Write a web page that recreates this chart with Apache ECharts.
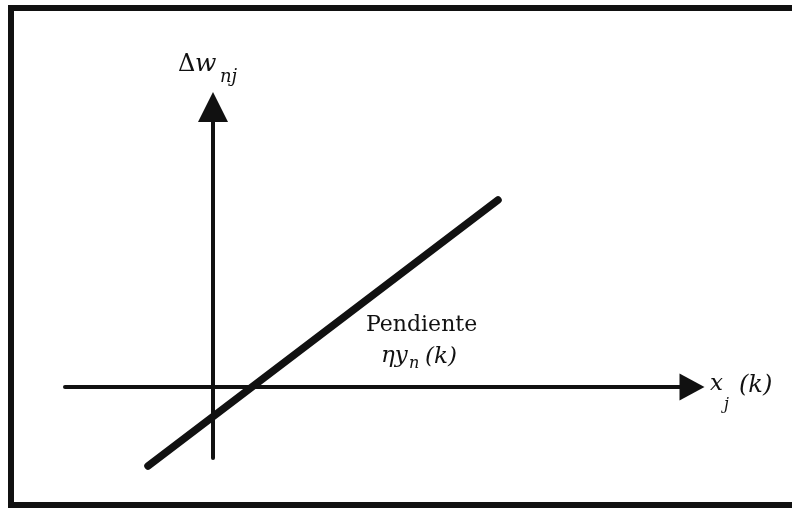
<!DOCTYPE html>
<html>
<head>
<meta charset="utf-8">
<script src="https://cdn.jsdelivr.net/npm/echarts@6/dist/echarts.min.js"></script>
<style>
  html, body { margin: 0; padding: 0; background: #fff; }
  #chart { width: 792px; height: 510px; }
</style>
</head>
<body>
<div id="chart"></div>
<script>
// data units: origin where the two axes cross
const xRange = [-1.48, 4.79];
const yRange = [-0.71, 2.80];
const lineX = [-0.65, 2.85];
const lineY = [-0.79, 1.87];

const ink = '#111';
const serif = '"DejaVu Serif", "Liberation Serif", serif';

const chart = echarts.init(document.getElementById('chart'));

const option = {
  backgroundColor: '#fff',
  animation: false,
  grid: { left: 65, right: 100, top: 107, bottom: 52 },
  xAxis: {
    type: 'value',
    min: xRange[0],
    max: xRange[1],
    axisLine: {
      onZero: true,
      symbol: ['none', 'triangle'],
      symbolSize: [27, 25],
      lineStyle: { color: ink, width: 4 }
    },
    axisTick: { show: false },
    axisLabel: { show: false },
    splitLine: { show: false }
  },
  yAxis: {
    type: 'value',
    min: yRange[0],
    max: yRange[1],
    axisLine: {
      show: true,
      onZero: true,
      symbol: ['none', 'triangle'],
      symbolSize: [30, 30],
      lineStyle: { color: ink, width: 4 }
    },
    axisTick: { show: false },
    axisLabel: { show: false },
    splitLine: { show: false }
  },
  series: [
    {
      type: 'line',
      clip: false,
      symbol: 'none',
      silent: true,
      lineStyle: { color: ink, width: 7.5, cap: 'round' },
      data: lineX.map((x, i) => [x, lineY[i]])
    }
  ],
  graphic: [
    // frame round the figure
    {
      type: 'rect',
      shape: { x: 11, y: 8, width: 800, height: 497 },
      style: { fill: 'none', stroke: ink, lineWidth: 6 }
    },
    { type: 'text', style: { text: 'Δ', x: 178, y: 65, font: '24px ' + serif, fill: ink, verticalAlign: 'middle' } },
    { type: 'text', style: { text: 'w', x: 195, y: 64, font: 'italic 25px ' + serif, fill: ink, verticalAlign: 'middle' } },
    { type: 'text', style: { text: 'nj', x: 220, y: 77, font: 'italic 18px ' + serif, fill: ink, verticalAlign: 'middle' } },

    { type: 'text', style: { text: 'x', x: 710, y: 384, font: 'italic 23px ' + serif, fill: ink, verticalAlign: 'middle' } },
    { type: 'text', style: { text: 'j', x: 724, y: 405, font: 'italic 16px ' + serif, fill: ink, verticalAlign: 'middle' } },
    { type: 'text', style: { text: '(k)', x: 739, y: 386, font: 'italic 24px ' + serif, fill: ink, verticalAlign: 'middle' } },

    { type: 'text', style: { text: 'Pendiente', x: 366, y: 325, font: '22px ' + serif, fill: ink, verticalAlign: 'middle' } },
    { type: 'text', style: { text: 'ηy', x: 381, y: 356, font: 'italic 23px ' + serif, fill: ink, verticalAlign: 'middle' } },
    { type: 'text', style: { text: 'n', x: 409, y: 364, font: 'italic 16px ' + serif, fill: ink, verticalAlign: 'middle' } },
    { type: 'text', style: { text: '(k)', x: 425, y: 357, font: 'italic 23px ' + serif, fill: ink, verticalAlign: 'middle' } }
  ]
};

chart.setOption(option);
</script>
</body>
</html>
